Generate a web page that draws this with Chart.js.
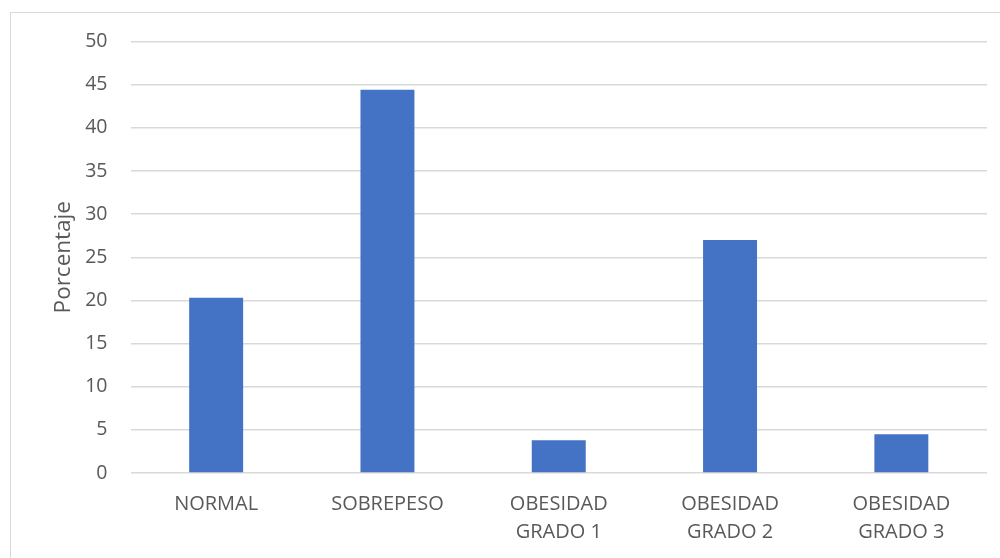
<!DOCTYPE html>
<html>
<head>
<meta charset="utf-8">
<script src="https://cdn.jsdelivr.net/npm/chart.js@4/dist/chart.umd.min.js"></script>
<style>
  html, body { margin: 0; padding: 0; background: #ffffff; }
  #wrap { position: relative; width: 1000px; height: 558px; overflow: hidden; }
  #frame { position: absolute; left: 10px; top: 12px; width: 1200px; height: 800px;
           border-left: 1px solid #d9d9d9; border-top: 1px solid #d9d9d9; box-sizing: border-box; }
  canvas { position: absolute; left: 0; top: 0; }
</style>
</head>
<body>
<div id="wrap">
  <div id="frame"></div>
  <canvas id="chart" width="1000" height="558"></canvas>
</div>
<script>
// Estado nutricional (porcentaje de participantes)
const categories = [
  ['NORMAL'],
  ['SOBREPESO'],
  ['OBESIDAD', 'GRADO 1'],
  ['OBESIDAD', 'GRADO 2'],
  ['OBESIDAD', 'GRADO 3']
];
const porcentajes = [20.3, 44.4, 3.8, 27.0, 4.5];
const yTicks = [0, 5, 10, 15, 20, 25, 30, 35, 40, 45, 50];
const yTitle = 'Porcentaje';

const FONT = "'Open Sans', 'Noto Sans', sans-serif";
const TEXT = '#595959';
const GRID = '#d9d9d9';

new Chart(document.getElementById('chart'), {
  type: 'bar',
  data: {
    labels: categories,
    datasets: [{
      data: porcentajes,
      backgroundColor: '#4472c4',
      borderWidth: 0,
      categoryPercentage: 1.0,
      barPercentage: 0.315
    }]
  },
  options: {
    responsive: false,
    animation: false,
    devicePixelRatio: 1,
    layout: { padding: { top: 41.5, right: 13, left: 0, bottom: 0 } },
    plugins: { legend: { display: false }, tooltip: { enabled: false } },
    scales: {
      x: {
        grid: { display: false, drawTicks: false },
        border: { display: false },
        ticks: {
          color: TEXT,
          font: { family: FONT, size: 20, lineHeight: 1.4 },
          padding: 17,
          maxRotation: 0,
          autoSkip: false
        },
        afterFit(scale) { scale.height = 558 - 473; }
      },
      y: {
        min: 0,
        max: 50,
        afterBuildTicks(scale) { scale.ticks = yTicks.map(v => ({ value: v })); },
        grid: { color: GRID, lineWidth: 1.5, drawTicks: false },
        border: { display: false },
        ticks: {
          color: TEXT,
          font: { family: FONT, size: 19.5 },
          padding: 23
        },
        title: {
          display: true,
          text: yTitle,
          color: TEXT,
          font: { family: FONT, size: 22.5 },
          padding: { top: 50, bottom: 0 }
        },
        afterFit(scale) { scale.width = 130.5; }
      }
    }
  }
});
</script>
</body>
</html>
